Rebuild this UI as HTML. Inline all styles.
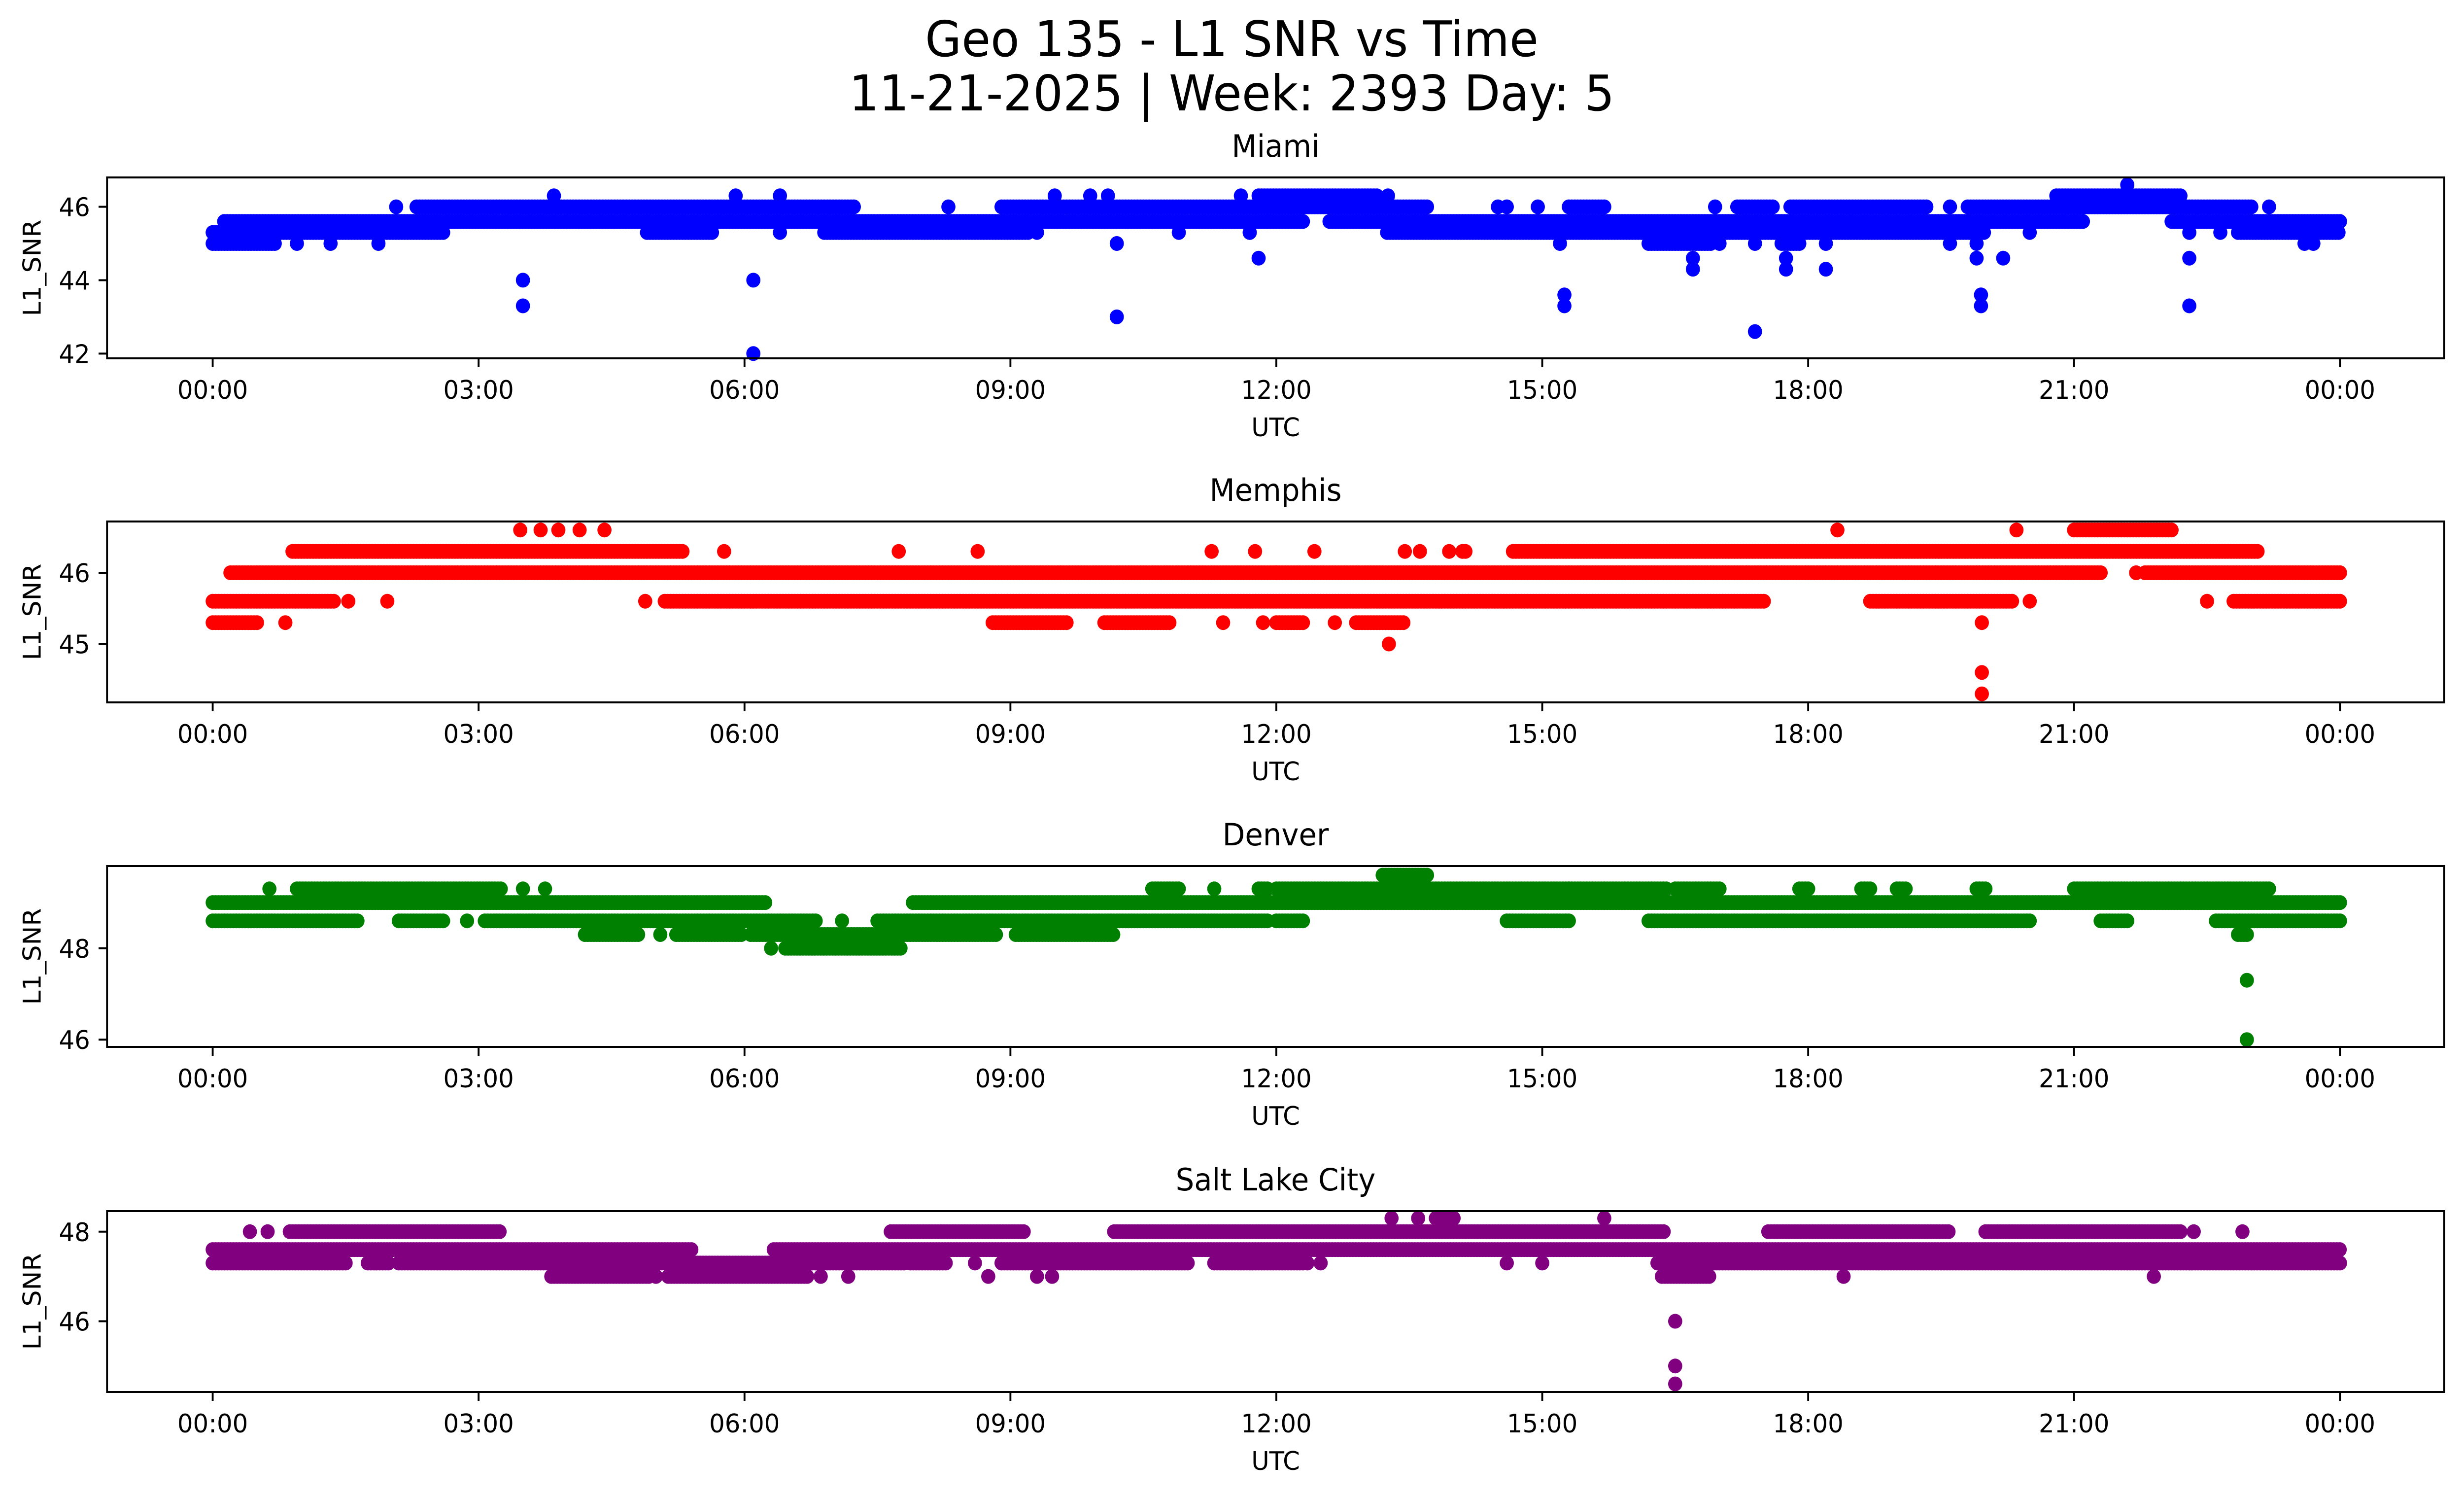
<!DOCTYPE html>
<html><head><meta charset="utf-8"><title>Geo 135 - L1 SNR vs Time</title>
<style>
html,body{margin:0;padding:0;background:#fff;overflow:hidden;width:100%;height:100%;}
svg{display:block;width:100vw;height:100vh;font-family:"DejaVu Sans","Liberation Sans",sans-serif;}
</style></head>
<body>
<svg id="fig" xmlns="http://www.w3.org/2000/svg" viewBox="0 0 5225 3033" preserveAspectRatio="none">
<rect width="5225" height="3033" fill="#fff"/>
<text x="2612" y="114" font-size="100" text-anchor="middle">Geo 135 - L1 SNR vs Time</text>
<text x="2612" y="224" font-size="100" text-anchor="middle">11-21-2025 | Week: 2393 Day: 5</text>
</svg>
<script>
// ---- data: quantized SNR levels and runs (level index, start hour, end hour) ----
const miamiLevels = [42.0, 42.6, 43.0, 43.3, 43.6, 44.0, 44.3, 44.6, 45.0, 45.3, 45.6, 46.0, 46.3, 46.6];
const miamiRunLevel = [8,8,8,8, 9,9,9,9,9,9,9, 10, 11,11,11,11, 12,12,12,12,12,12,12, 5,3,5,0,8,2,7,
  12,12,12,13, 11,11,11,11,11,11,11,11,11,11,11, 10,10,10, 9,9,9,9,9,9,
  8,8,8,8,8,8,8,8,8,8, 7,7,7,7,7, 6,6,6, 4,4, 3,3,3, 1];
const miamiRunStart = [0,0.95,1.33,1.87, 0,4.9,6.4,6.9,9.3,10.9,11.7, 0.13, 2.07,2.3,8.3,8.9, 3.85,5.9,6.4,9.5,9.9,10.1,11.6, 3.5,3.5,6.1,6.1,10.2,10.2,11.8,
  11.8,13.26,20.8,21.6, 11.9,14.5,14.6,14.95,15.3,16.95,17.2,17.8,19.6,19.8,23.2, 11.9,12.6,22.1, 11.7,13.25,20.5,22.3,22.65,22.85,
  15.2,16.2,17.0,17.4,17.7,18.2,19.6,19.9,23.6,23.7, 16.7,17.75,19.9,20.2,22.3, 16.7,17.75,18.2, 15.25,19.95, 15.25,19.95,22.3, 17.4];
const miamiRunEnd = [0.7,0.95,1.33,1.87, 2.6,5.65,6.4,9.2,9.3,10.9,11.7, 11.9, 2.07,7.25,8.3,11.9, 3.85,5.9,6.4,9.5,9.9,10.1,11.6, 3.5,3.5,6.1,6.1,10.2,10.2,11.8,
  13.16,13.26,22.2,21.6, 13.7,14.5,14.6,14.95,15.7,16.95,17.6,19.35,19.6,23.0,23.2, 12.3,21.1,24, 11.7,20.0,20.5,22.3,22.65,24,
  15.2,16.9,17.0,17.4,17.9,18.2,19.6,19.9,23.6,23.7, 16.7,17.75,19.9,20.2,22.3, 16.7,17.75,18.2, 15.25,19.95, 15.25,19.95,22.3, 17.4];

const memphisLevels = [44.3, 44.6, 45.0, 45.3, 45.6, 46.0, 46.3, 46.6];
const memphisRunLevel = [7,7,7,7,7, 7,7,7, 6,6,6,6,6,6, 6,6,6,6,6,6, 5,5,5,5,
  4,4,4,4,4, 4,4,4,4, 3,3,3,3,3,3, 3,3,3,3, 2, 1, 0];
const memphisRunStart = [3.47,3.7,3.9,4.14,4.42, 18.33,20.35,21.0, 0.9,5.77,7.74,8.63,11.27,11.76, 12.43,13.45,13.62,13.95,14.1,14.67, 0.2,12,21.7,21.8,
  0,1.53,1.97,4.88,5.1, 18.7,20.5,22.5,22.8, 0,0.82,8.8,10.06,11.4,11.85, 12.0,12.66,12.9,19.96, 13.27, 19.96, 19.96];
const memphisRunEnd = [3.47,3.7,3.9,4.14,4.42, 18.33,20.35,22.1, 5.3,5.77,7.74,8.63,11.27,11.76, 12.43,13.45,13.62,13.95,14.14,23.1, 12,21.3,21.7,24,
  1.38,1.53,1.97,4.88,17.5, 20.3,20.5,22.5,24, 0.5,0.82,9.65,10.8,11.4,11.85, 12.3,12.66,13.45,19.96, 13.27, 19.96, 19.96];

const denverLevels = [46.0, 47.3, 48.0, 48.3, 48.6, 49.0, 49.3, 49.6];
const denverRunLevel = [7, 6,6,6,6,6,6,6,6,6,6,6,6,6,6,6, 5,5,
  4,4,4,4,4,4,4,4,4,4,4, 3,3,3,3,3,3, 2,2, 1,0];
const denverRunStart = [13.2, 0.64,0.95,3.5,3.75,10.6,11.3,11.8,12.0,15.3,16.5,17.9,18.6,19.0,19.9,21.0, 0,7.9,
  0,2.1,2.87,3.07,7.1,7.5,12.0,14.6,16.2,21.3,22.6, 4.2,5.05,5.23,6.07,9.06,22.85, 6.3,6.46, 22.95,22.95];
const denverRunEnd = [13.7, 0.64,3.25,3.5,3.75,10.9,11.3,11.9,15.3,16.4,17.0,18.0,18.7,19.1,20.0,23.2, 6.25,24,
  1.66,2.6,2.87,6.82,7.1,11.9,12.3,15.3,20.5,21.6,24, 4.83,5.05,5.98,8.85,10.17,22.95, 6.3,7.79, 22.95,22.95];

const slcLevels = [44.6, 45.0, 46.0, 47.0, 47.3, 47.6, 48.0, 48.3];
const slcRunLevel = [7,7,7,7, 6,6,6,6,6,6,6,6,6, 5,5, 4,4,4,4,4,4,4,4,4,4,4,4,
  3,3,3,3,3,3,3,3,3,3,3, 2,1,0];
const slcRunStart = [13.3,13.6,13.8,15.7, 0.42,0.62,0.87,7.65,10.17,17.55,20.0,22.35,22.9, 0,6.33,
  0,1.75,2.1,7.87,8.6,8.9,11.3,12.35,12.5,14.6,15.0,16.3,
  3.82,5.0,5.14,6.86,7.17,9.3,9.47,16.35,18.4,21.9,8.75, 16.5,16.5,16.5];
const slcRunEnd = [13.3,13.6,14.0,15.7, 0.42,0.62,3.25,9.15,16.4,19.6,22.2,22.35,22.9, 5.4,24,
  1.52,2.0,7.83,8.3,8.6,11.0,12.3,12.35,12.5,14.6,15.0,24,
  4.92,5.0,6.73,6.86,7.17,9.3,9.47,16.9,18.4,21.9,8.75, 16.5,16.5,16.5];

const xTickLabels = ["00:00","03:00","06:00","09:00","12:00","15:00","18:00","21:00","00:00"];
const xTickHours = [0,3,6,9,12,15,18,21,24];

// ---- layout ----
const SVGNS = "http://www.w3.org/2000/svg";
const svg = document.getElementById('fig');
const L = 227, R = 5183, H = 367;
const X0 = 451, X1 = 4962;
function xPos(h){ return X0 + (X1 - X0) * h / 24; }

const panels = [
  {name:"miami", title:"Miami", color:"#0000ff", top:360, ymin:41.87, ymax:46.80, ticks:[42,44,46],
   levels:miamiLevels, lv:miamiRunLevel, s:miamiRunStart, e:miamiRunEnd},
  {name:"memphis", title:"Memphis", color:"#ff0000", top:1058, ymin:44.18, ymax:46.72, ticks:[45,46],
   levels:memphisLevels, lv:memphisRunLevel, s:memphisRunStart, e:memphisRunEnd},
  {name:"denver", title:"Denver", color:"#008000", top:1757, ymin:45.84, ymax:49.80, ticks:[46,48],
   levels:denverLevels, lv:denverRunLevel, s:denverRunStart, e:denverRunEnd},
  {name:"salt-lake-city", title:"Salt Lake City", color:"#800080", top:2457, ymin:44.42, ymax:48.46, ticks:[46,48],
   levels:slcLevels, lv:slcRunLevel, s:slcRunStart, e:slcRunEnd}
];

function mk(tag, attrs, parent){
  const el = document.createElementNS(SVGNS, tag);
  for (const k in attrs) el.setAttribute(k, attrs[k]);
  (parent || svg).appendChild(el);
  return el;
}

panels.forEach(p => {
  const top = p.top, bot = top + H;
  const yPos = v => bot - (v - p.ymin) / (p.ymax - p.ymin) * H;
  const g = mk('g', {});
  
  

  const title = mk('text', {x:(L+R)/2, y:top-42, 'font-size':62, 'text-anchor':'middle'}, g);
  title.textContent = p.title;
  
  

  const pts = mk('g', {fill:p.color}, g);
  
  
  const step = 1/30;
  for (let i = 0; i < p.lv.length; i++) {
    const v = p.levels[p.lv[i]];
    const cy = yPos(v);
    for (let t = p.s[i]; t <= p.e[i] + 1e-9; t += step) {
      const c = mk('circle', {cx:xPos(t).toFixed(1), cy:cy.toFixed(1), r:15}, pts);
      
      
    }
  }

  const frame = mk('rect', {x:L, y:top, width:R-L, height:H, fill:'none', stroke:'#000', 'stroke-width':4}, g);
  
  

  xTickHours.forEach((h, i) => {
    const x = xPos(h);
    mk('line', {x1:x, y1:bot, x2:x, y2:bot+18, stroke:'#000', 'stroke-width':4}, g);
    const t = mk('text', {x:x, y:bot+82, 'font-size':52, 'text-anchor':'middle'}, g);
    t.textContent = xTickLabels[i];
    
    
  });
  const xl = mk('text', {x:(L+R)/2, y:bot+158, 'font-size':52, 'text-anchor':'middle'}, g);
  xl.textContent = 'UTC';
  
  

  p.ticks.forEach(v => {
    const y = yPos(v);
    mk('line', {x1:L-18, y1:y, x2:L, y2:y, stroke:'#000', 'stroke-width':4}, g);
    const t = mk('text', {x:L-36, y:y+19, 'font-size':52, 'text-anchor':'end'}, g);
    t.textContent = String(v);
    
    
  });
  const ym = (top + bot) / 2;
  const yl = mk('text', {x:86, y:ym, 'font-size':52, 'text-anchor':'middle', transform:'rotate(-90 86 ' + ym + ')'}, g);
  yl.textContent = 'L1_SNR';
  
  
});
</script>
</body></html>
